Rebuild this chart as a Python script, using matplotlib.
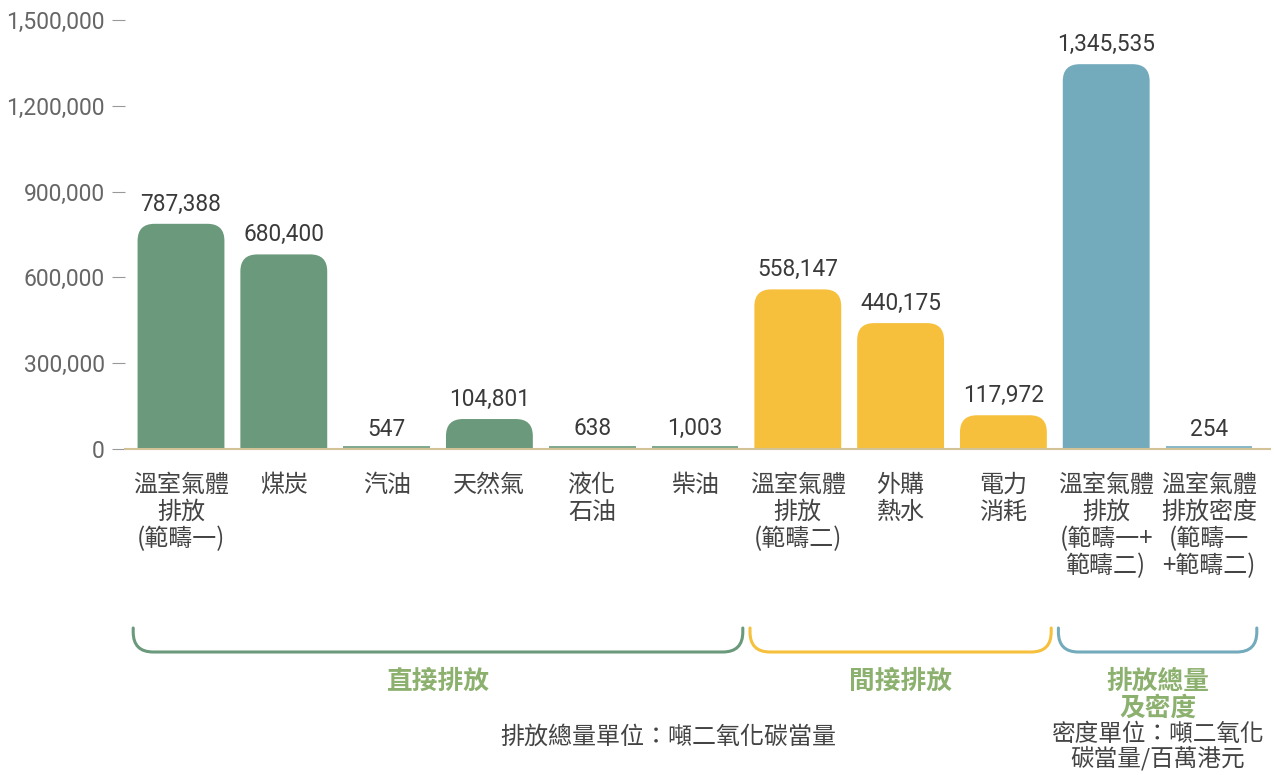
import matplotlib
matplotlib.use("Agg")
import matplotlib.pyplot as plt
import numpy as np
from matplotlib.patches import FancyBboxPatch, PathPatch
from matplotlib.path import Path
from matplotlib.transforms import blended_transform_factory

plt.rcParams['font.family'] = ['Roboto', 'Noto Sans CJK TC', 'DejaVu Sans']
CJK = ['Noto Sans CJK TC', 'DejaVu Sans']

# data
categories = ["溫室氣體\n排放\n(範疇一)", "煤炭", "汽油", "天然氣", "液化\n石油", "柴油",
              "溫室氣體\n排放\n(範疇二)", "外購\n熱水", "電力\n消耗",
              "溫室氣體\n排放\n(範疇一+\n範疇二)", "溫室氣體\n排放密度\n(範疇一\n+範疇二)"]
values = [787388, 680400, 547, 104801, 638, 1003, 558147, 440175, 117972, 1345535, 254]
bar_group = [0, 0, 0, 0, 0, 0, 1, 1, 1, 2, 2]
group_names = ["直接排放", "間接排放", "排放總量\n及密度"]
group_span = [(0, 5), (6, 8), (9, 10)]
group_colors = ["#6a997b", "#f6c03c", "#74abbc"]
yticks = [0, 300000, 600000, 900000, 1200000, 1500000]
unit_main = "排放總量單位：噸二氧化碳當量"
unit_density = "密度單位：噸二氧化\n碳當量/百萬港元"

W, H = 1274, 775
fig = plt.figure(figsize=(W / 100, H / 100), dpi=100)
ax_l, ax_r, ax_b, ax_t = 125, 1270, 449, 10
ax = fig.add_axes([ax_l / W, 1 - ax_b / H, (ax_r - ax_l) / W, (ax_b - ax_t) / H])

step = 102.8  # px per category
x0 = 181
ax.set_xlim((ax_l - x0) / step, (ax_r - x0) / step)
ymax = 1500000 * (ax_b - ax_t) / (449 - 20)
ax.set_ylim(0, ymax)

x = np.arange(len(values))
colors = [group_colors[g] for g in bar_group]
bars = ax.bar(x, values, width=0.845, color=colors, edgecolor=colors, linewidth=1.2,
              zorder=3, clip_on=False)

# round the tops of the taller bars
ypp = ymax / (ax_b - ax_t)  # data per px in y
xpp = 1 / step
r_px = 17
for b, c in zip(bars, colors):
    h = b.get_height()
    if h / ypp > r_px:
        b.set_visible(False)
        ext = r_px * ypp
        p = FancyBboxPatch((b.get_x(), -ext), b.get_width(), h + ext,
                           boxstyle="round,pad=0,rounding_size=%f" % (r_px * xpp),
                           mutation_aspect=ypp / xpp, facecolor=c, edgecolor='none', zorder=2)
        ax.add_patch(p)
    else:
        # tiny bars sit just above the baseline as a thin strip
        b.set_y(ypp * 1.6)

for xi, v in zip(x, values):
    ax.annotate(f"{v:,}", (xi, v), xytext=(0, 6), textcoords='offset points',
                ha='center', va='bottom', fontsize=16.3, color='#3a3a3a')

for s in ['left', 'right', 'top']:
    ax.spines[s].set_visible(False)
ax.spines['bottom'].set_color('#d2c296')
ax.spines['bottom'].set_linewidth(1.5)
ax.set_xticks([])
ax.set_yticks(yticks)
ax.set_yticklabels([f"{t:,}" for t in yticks])
ax.tick_params(axis='y', length=9.5, width=0.8, color='#999999', labelsize=16.5,
               labelcolor='#666666', pad=5)

tr = blended_transform_factory(ax.transData, fig.transFigure)

def fy(px):
    return 1 - px / H

for xi, lab in zip(x, categories):
    ax.text(xi, fy(472), lab, transform=tr, ha='center', va='top', fontsize=17.3,
            family=CJK, color='#444444', linespacing=1.05, multialignment='center')

# brackets
gap = 0.035
rx, ry = 20 / step, 20 / H
ytop, ybot = fy(628), fy(652)
for (a, b), c, name in zip(group_span, group_colors, group_names):
    xa, xb = a - 0.5 + gap, b + 0.5 - gap
    verts = [(xa, ytop), (xa, ybot + ry), (xa, ybot), (xa + rx, ybot),
             (xb - rx, ybot), (xb, ybot), (xb, ybot + ry), (xb, ytop)]
    codes = [Path.MOVETO, Path.LINETO, Path.CURVE3, Path.CURVE3,
             Path.LINETO, Path.CURVE3, Path.CURVE3, Path.LINETO]
    ax.add_patch(PathPatch(Path(verts, codes), transform=tr, fill=False, edgecolor=c,
                           linewidth=2.2, clip_on=False, capstyle='round'))
    ax.text((xa + xb) / 2, fy(668), name, transform=tr, ha='center', va='top', fontsize=18.5,
            family=CJK, fontweight='bold', color='#8cb06e', linespacing=1.0)

fig.text(668 / W, fy(724), unit_main, ha='center', va='top', fontsize=17.3, family=CJK,
         color='#444444')
ax.text(9.5, fy(723), unit_density, transform=tr, ha='center', va='top', fontsize=17,
        family=CJK, color='#444444', linespacing=1.0)

fig.savefig("out.png", dpi=100)
